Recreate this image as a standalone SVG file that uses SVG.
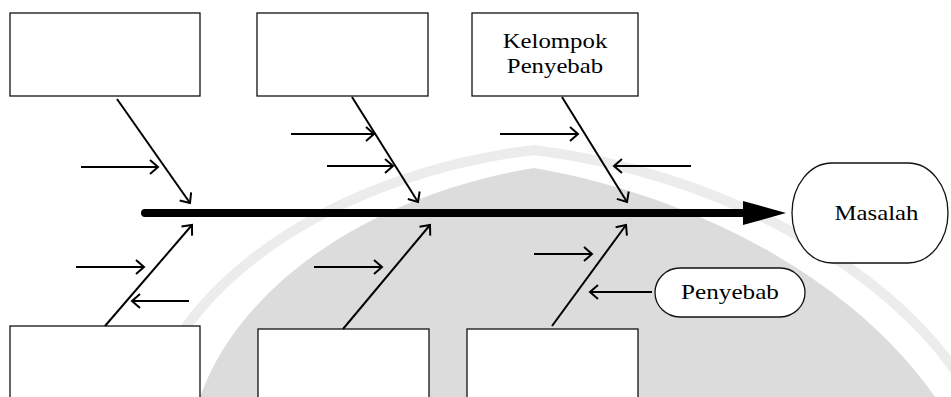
<svg xmlns="http://www.w3.org/2000/svg" width="951" height="397" viewBox="0 0 951 397">
  <style>
    .box { fill: #fff; stroke: #111; stroke-width: 1.3; }
    .bone { stroke: #000; stroke-width: 2; fill: none; marker-end: url(#open); }
    .twig { stroke: #000; stroke-width: 2; fill: none; marker-end: url(#open); }
    .lbl { font-family: 'Liberation Serif', 'Times New Roman', serif; font-size: 21px; fill: #000; text-anchor: middle; }
  </style>
  <defs>
    <marker id="open" viewBox="0 0 12 16" refX="10" refY="8" markerWidth="12" markerHeight="16" orient="auto" markerUnits="userSpaceOnUse">
      <path d="M2,1 L10,8 L2,15" fill="none" stroke="#000" stroke-width="2"/>
    </marker>
  </defs>

  <rect width="951" height="397" fill="#fff"/>

  <!-- background arch emblem -->
  <g id="emblem">
    <path d="M150,397 C190,270 350,172 534,150 C715,172 890,265 965,385" fill="none" stroke="#ececec" stroke-width="10"/>
    <path d="M200,397 C240,285 370,195 534,168 C690,195 850,275 935,397 Z" fill="#dcdcdc"/>
  </g>

  <!-- cause category boxes -->
  <g id="box-top-1"><rect class="box" x="10" y="13" width="190" height="83"/></g>
  <g id="box-top-2"><rect class="box" x="257" y="13" width="171" height="83"/></g>
  <g id="box-top-3">
    <rect class="box" x="472" y="13" width="166" height="83"/>
    <text class="lbl" transform="translate(555 48) scale(1.18 1)">Kelompok</text>
    <text class="lbl" transform="translate(555 73) scale(1.18 1)">Penyebab</text>
  </g>
  <g id="box-bottom-1"><rect class="box" x="10" y="326" width="190" height="80"/></g>
  <g id="box-bottom-2"><rect class="box" x="258" y="329" width="171" height="80"/></g>
  <g id="box-bottom-3"><rect class="box" x="467" y="329" width="171" height="80"/></g>

  <!-- effect -->
  <g id="masalah">
    <rect class="box" x="792" y="163" width="156" height="100" rx="40" ry="50"/>
    <text class="lbl" transform="translate(876.5 220) scale(1.18 1)">Masalah</text>
  </g>

  <!-- single cause -->
  <g id="penyebab">
    <rect class="box" x="655" y="268" width="150" height="49" rx="25" ry="24.5"/>
    <text class="lbl" transform="translate(730 299) scale(1.2 1)">Penyebab</text>
  </g>

  <g id="connectors">
    <!-- spine -->
    <line x1="145" y1="213" x2="748" y2="213" stroke="#000" stroke-width="8" stroke-linecap="round"/>
    <polygon points="743,201 786,213 743,225" fill="#000"/>

    <!-- main bones -->
    <line class="bone" x1="117" y1="99" x2="190" y2="203"/>
    <line class="bone" x1="352" y1="97" x2="418" y2="202"/>
    <line class="bone" x1="562" y1="97" x2="627" y2="202"/>
    <line class="bone" x1="105" y1="326" x2="192" y2="225"/>
    <line class="bone" x1="343" y1="329" x2="430" y2="225"/>
    <line class="bone" x1="552" y1="326" x2="626" y2="225"/>

    <!-- sub-causes -->
    <line class="twig" x1="81" y1="167" x2="158" y2="167"/>
    <line class="twig" x1="291" y1="134" x2="374" y2="134"/>
    <line class="twig" x1="327" y1="166" x2="393" y2="166"/>
    <line class="twig" x1="500" y1="134" x2="578" y2="134"/>
    <line class="twig" x1="691" y1="166" x2="614" y2="166"/>
    <line class="twig" x1="76" y1="267" x2="144" y2="267"/>
    <line class="twig" x1="189" y1="301" x2="132" y2="301"/>
    <line class="twig" x1="314" y1="267" x2="382" y2="267"/>
    <line class="twig" x1="534" y1="254" x2="592" y2="254"/>
    <line class="twig" x1="652" y1="292" x2="590" y2="292"/>
  </g>
</svg>
